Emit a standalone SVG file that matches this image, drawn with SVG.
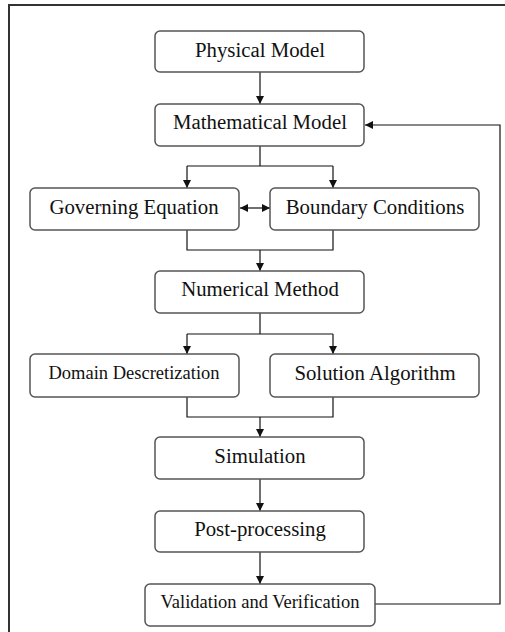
<svg xmlns="http://www.w3.org/2000/svg" width="505" height="632" viewBox="0 0 505 632">
<style>
.box{fill:#fff;stroke:#555;stroke-width:1.5}
.t{font-family:"Liberation Serif","Times New Roman",serif;fill:#111;text-anchor:middle;font-size:20.8px}
.s{font-size:18.5px}
.c{fill:none;stroke:#111;stroke-width:1.2}
</style>
<defs>
<marker id="a" viewBox="0 0 10 10" refX="10" refY="5" markerWidth="8" markerHeight="8" markerUnits="userSpaceOnUse" orient="auto-start-reverse">
<path d="M0,0 L10,5 L0,10 z" fill="#111"/>
</marker>
</defs>
<rect width="505" height="632" fill="#fff"/>
<rect x="9" y="5" width="520" height="650" fill="none" stroke="#333" stroke-width="2"/>
<g id="connectors">
<path class="c" d="M260,72 V104" marker-end="url(#a)"/>
<path class="c" d="M260,146 V166 M187,166 H333"/>
<path class="c" d="M187,166 V188" marker-end="url(#a)"/>
<path class="c" d="M333,166 V188" marker-end="url(#a)"/>
<path class="c" d="M240,208 H270" marker-start="url(#a)" marker-end="url(#a)"/>
<path class="c" d="M187,230 V250 H333 V230"/>
<path class="c" d="M260,250 V271" marker-end="url(#a)"/>
<path class="c" d="M260,313 V334 M187,334 H333"/>
<path class="c" d="M187,334 V354" marker-end="url(#a)"/>
<path class="c" d="M333,334 V354" marker-end="url(#a)"/>
<path class="c" d="M187,397 V417 H333 V397"/>
<path class="c" d="M260,417 V437" marker-end="url(#a)"/>
<path class="c" d="M260,479 V511" marker-end="url(#a)"/>
<path class="c" d="M260,552 V584" marker-end="url(#a)"/>
<path class="c" d="M375,604 H500 V125 H365" marker-end="url(#a)"/>
</g>
<g id="physical"><rect class="box" x="155" y="31" width="209" height="41" rx="5"/><text class="t" x="260" y="57">Physical Model</text></g>
<g id="mathematical"><rect class="box" x="155" y="104" width="209" height="42" rx="5"/><text class="t" x="260" y="129">Mathematical Model</text></g>
<g id="governing"><rect class="box" x="30" y="188" width="209" height="42" rx="5"/><text class="t" x="134" y="214">Governing Equation</text></g>
<g id="boundary"><rect class="box" x="270" y="188" width="209" height="42" rx="5"/><text class="t" x="375" y="214">Boundary Conditions</text></g>
<g id="numerical"><rect class="box" x="155" y="271" width="209" height="42" rx="5"/><text class="t" x="260" y="296">Numerical Method</text></g>
<g id="domain"><rect class="box" x="30" y="354" width="209" height="43" rx="5"/><text class="t s" x="134" y="379">Domain Descretization</text></g>
<g id="solution"><rect class="box" x="270" y="354" width="209" height="43" rx="5"/><text class="t" x="375" y="380">Solution Algorithm</text></g>
<g id="simulation"><rect class="box" x="155" y="437" width="209" height="42" rx="5"/><text class="t" x="260" y="463">Simulation</text></g>
<g id="postprocessing"><rect class="box" x="155" y="511" width="209" height="41" rx="5"/><text class="t" x="260" y="536">Post-processing</text></g>
<g id="validation"><rect class="box" x="145" y="584" width="230" height="42" rx="5"/><text class="t s" x="260" y="608">Validation and Verification</text></g>
</svg>
